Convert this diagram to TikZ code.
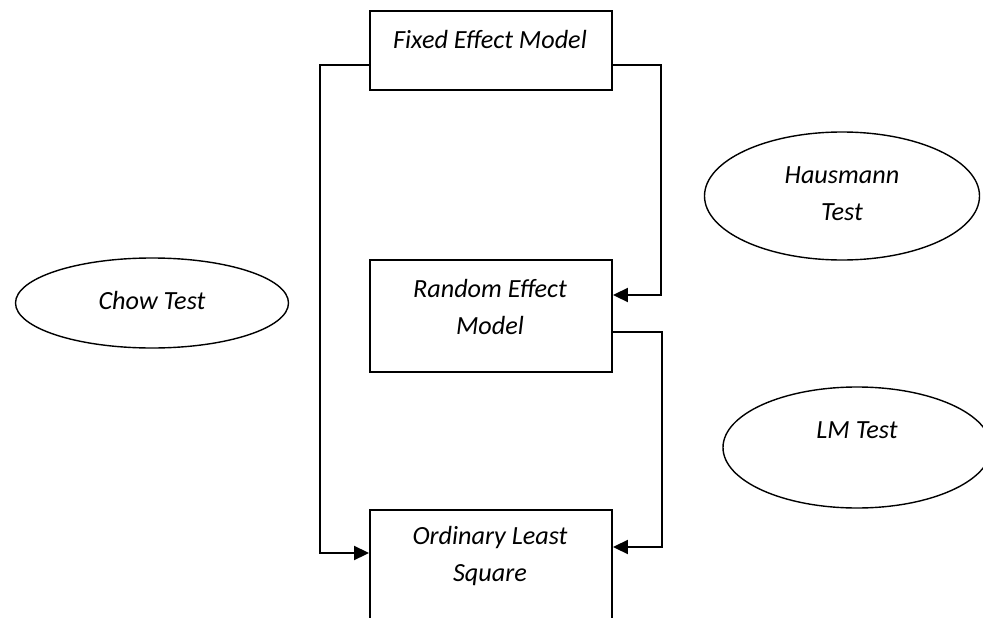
\documentclass[tikz,border=0pt]{standalone}
\usepackage{fontspec}
\setmainfont{Carlito}
\usepackage{tikz}
\usetikzlibrary{shapes.geometric, arrows.meta, positioning}
\tikzstyle{model} = [rectangle, minimum width=242pt, inner sep=0pt, draw=black, line width=1.9pt]
\tikzstyle{test}  = [ellipse, inner sep=0pt, draw=black, line width=1.4pt]
\tikzstyle{txt}   = [inner sep=0pt, align=center, font=\itshape\fontsize{26.2}{37}\selectfont]
\tikzstyle{arrow} = [line width=1.9pt, -{Triangle[length=15pt, width=14pt]}]

\begin{document}
\begin{tikzpicture}[x=1pt, y=-1pt]
    \useasboundingbox (0,0) rectangle (983,618);
    % models
    \node (fem)  at (491, 50.5) [model, minimum height=79pt]  {};
    \node (rem)  at (491,316)   [model, minimum height=112pt] {};
    \node (ols)  at (491,575)   [model, minimum height=130pt] {};
    \node (femtxt) at (490, 40) [txt] {Fixed Effect Model};
    \node (remtxt) at (490,307) [txt] {Random Effect\\Model};
    \node (olstxt) at (490,556) [txt] {Ordinary Least\\Square};
    % tests
    \node (chow) at (152,303)   [test, minimum width=273pt, minimum height=90pt]  {};
    \node (haus) at (842,196)   [test, minimum width=275pt, minimum height=128pt] {};
    \node (lm)   at (857,447.5) [test, minimum width=268pt, minimum height=121pt] {};
    \node (chowtxt) at (152,300) [txt] {Chow Test};
    \node (haustxt) at (842,194) [txt] {Hausmann\\Test};
    \node (lmtxt)   at (857,430) [txt] {LM Test};

    \draw [arrow] ([yshift=-14.5pt]fem.west) -- ++(-49,0) |- ([yshift=22pt]ols.west);
    \draw [arrow] ([yshift=-14.5pt]fem.east) -- ++(48,0)  |- ([yshift=21pt]rem.east);
    \draw [arrow] ([yshift=-16pt]rem.east)   -- ++(49,0)  |- ([yshift=28pt]ols.east);
\end{tikzpicture}
\end{document}
